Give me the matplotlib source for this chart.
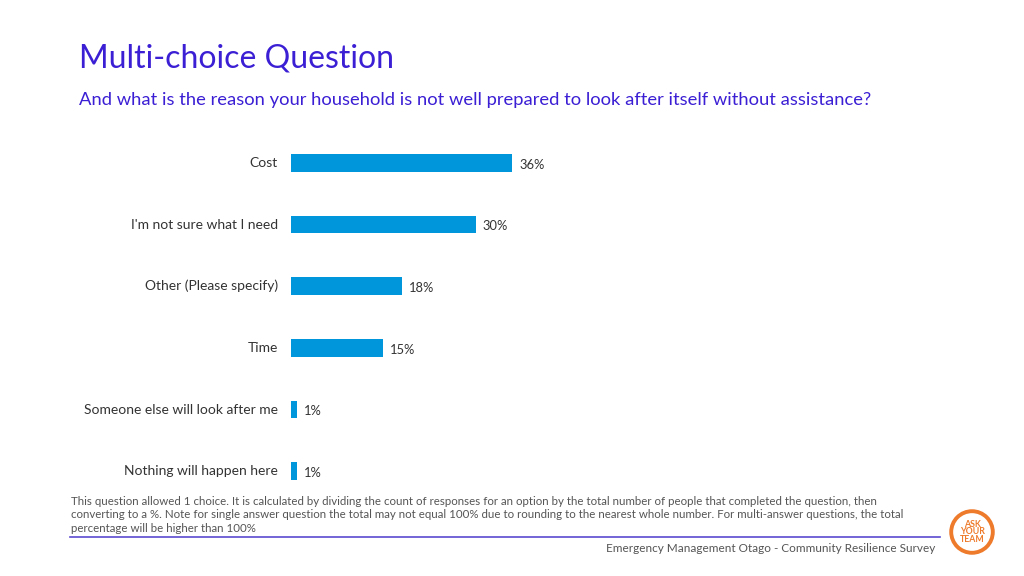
import matplotlib.pyplot as plt
from matplotlib.patches import Circle
from matplotlib.lines import Line2D

# Data
categories = ['Cost', "I'm not sure what I need", 'Other (Please specify)', 'Time',
              'Someone else will look after me', 'Nothing will happen here']
values = [36, 30, 18, 15, 1, 1]

title_color = '#3B1FD4'
bar_color = '#0096DC'
text_color = '#333333'

plt.rcParams['font.family'] = ['Lato', 'DejaVu Sans']

fig = plt.figure(figsize=(10.24, 5.76), dpi=100)
W, H = 1024, 576

# bars axes: x 291px -> 0%, 6.15 px per %; rows centred 163..471 px
ax = fig.add_axes([291 / W, 1 - 502 / H, 615 / W, 370 / H])
ypos = list(range(len(categories)))
ax.barh(ypos, values, height=0.29, color=bar_color)
ax.set_xlim(0, 100)
ax.set_ylim(len(categories) - 0.5, -0.5)
ax.axis('off')

for y, v, c in zip(ypos, values, categories):
    ax.text(v + 1.1, y + 0.03, f'{v}%', ha='left', va='center', fontsize=9.3, color=text_color)
    ax.text(-2.1, y, c, ha='right', va='center', fontsize=10, color=text_color)

# titles
fig.text(79 / W, 1 - 58 / H, 'Multi-choice Question', fontsize=23, color=title_color,
         ha='left', va='center')
fig.text(79 / W, 1 - 100 / H,
         'And what is the reason your household is not well prepared to look after itself without assistance?',
         fontsize=13.2, color=title_color, ha='left', va='center')

# footnote
note = ('This question allowed 1 choice. It is calculated by dividing the count of responses for an option by the total number of people that completed the question, then\n'
        'converting to a %. Note for single answer question the total may not equal 100% due to rounding to the nearest whole number. For multi-answer questions, the total\n'
        'percentage will be higher than 100%')
fig.text(71 / W, 1 - 515 / H, note, fontsize=8.3, color='#555555', ha='left', va='center',
         linespacing=1.25)

fig.add_artist(Line2D([70 / W, 940 / W], [1 - 537 / H, 1 - 537 / H], color='#5B4BD0', lw=1.2))
fig.text(935 / W, 1 - 548 / H, 'Emergency Management Otago - Community Resilience Survey',
         fontsize=8.5, color='#555555', ha='right', va='center')

# logo
lax = fig.add_axes([946 / W, 1 - 558 / H, 52 / W, 52 / H])
lax.set_xlim(-1, 1)
lax.set_ylim(-1, 1)
lax.set_aspect('equal')
lax.axis('off')
lax.add_patch(Circle((0, 0), 0.8, fill=False, ec='#EE7A2B', lw=2.8))
lax.text(0, 0, 'ASK\nYOUR\nTEAM', ha='center', va='center', fontsize=6.3, fontweight='bold',
         color='#EE7A2B', linespacing=0.85)

fig.savefig('out.png', dpi=100, facecolor='white')
